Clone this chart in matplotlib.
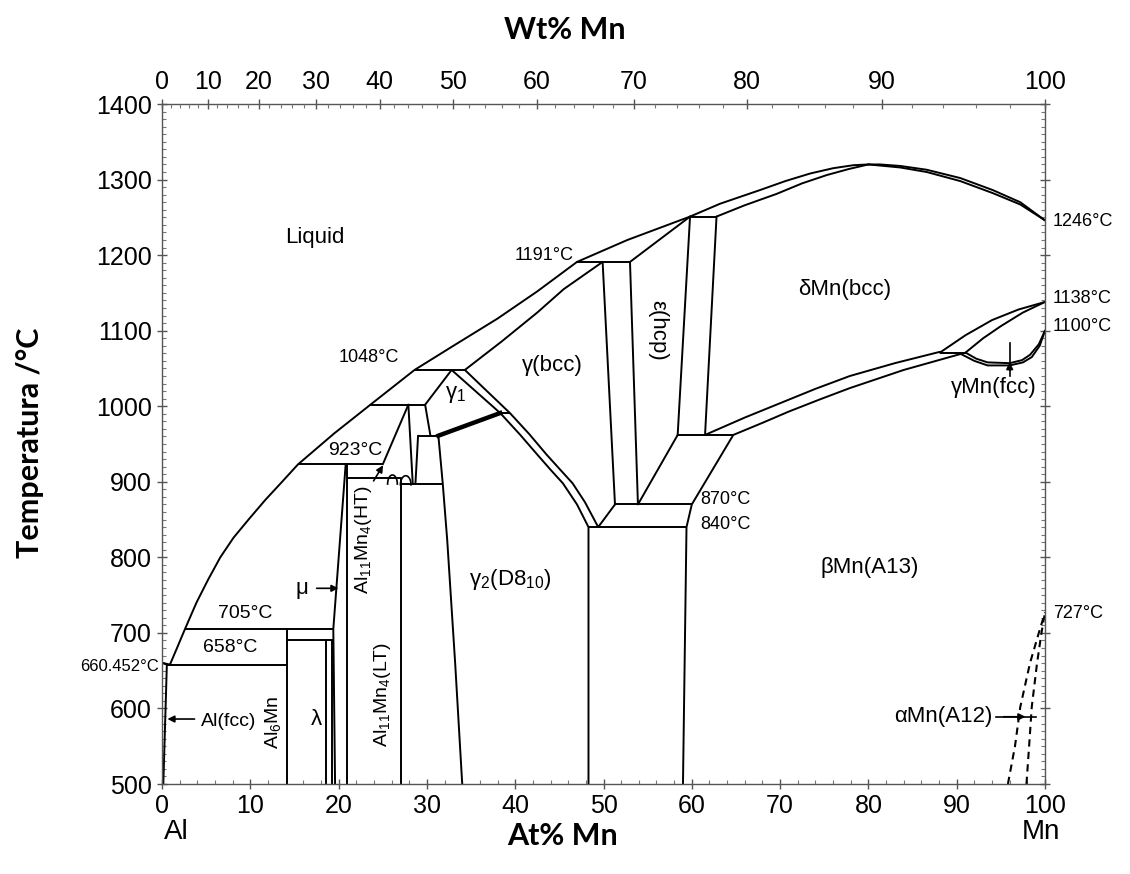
import numpy as np
import matplotlib.pyplot as plt
from matplotlib.ticker import MultipleLocator

plt.rcParams['font.family'] = ['Liberation Sans', 'DejaVu Sans']
plt.rcParams['mathtext.fontset'] = 'custom'
plt.rcParams['mathtext.rm'] = 'Liberation Sans'
plt.rcParams['mathtext.it'] = 'Liberation Sans:italic'

# ---- phase boundaries: (at% Mn, temperature °C) ----
liquidus_x = [0.9, 1.7, 2.6, 3.9, 5.2, 6.6, 8.1, 9.8, 11.7, 13.6, 15.4, 19.5, 23.6,
              28.6, 33.0, 38.0, 42.5, 47.0]
liquidus_T = [658, 680, 705, 740, 770, 800, 826, 850, 876, 900, 923, 964, 1002,
              1048, 1080, 1116, 1152, 1191]
liq_eps_x = [47.0, 52.7, 59.8]
liq_eps_T = [1191, 1220, 1251]
liq_top_x = [59.8, 63.2, 67.7, 70.6, 73.4, 76.0, 78.3, 80.0, 81.3, 83.6, 86.6, 90.4,
             94.1, 97.2, 100]
liq_top_T = [1251, 1268, 1286, 1298, 1308, 1315, 1319, 1320, 1320, 1318, 1313, 1302,
             1286, 1270, 1246]
sol_top_l_x = [62.8, 66.0, 69.6, 72.5, 75.3, 77.8, 80.0]
sol_top_l_T = [1251, 1266, 1281, 1295, 1306, 1314, 1320]
sol_top_r_x = [80.0, 83.6, 86.6, 90.4, 94.1, 97.2, 100]
sol_top_r_T = [1320, 1316, 1310, 1298, 1282, 1267, 1246]
gam_sol_x = [34.3, 38.5, 42.5, 45.5, 49.9]
gam_sol_T = [1048, 1086, 1124, 1155, 1191]

# horizontal invariant lines: temperature, x-start, x-end
iso_T = [658, 690, 705, 905, 897, 923, 961, 991, 1002, 1048, 870, 840, 962, 1191, 1251, 1071]
iso_x0 = [0.55, 14.2, 2.6, 20.9, 27.1, 15.4, 29.0, 38.3, 23.6, 28.6, 51.3, 48.3, 58.4, 47.0, 59.8, 88.1]
iso_x1 = [14.2, 19.45, 19.4, 27.1, 31.8, 25.0, 31.3, 39.4, 29.8, 34.3, 60.0, 59.4, 64.7, 53.0, 62.8, 91.0]

# remaining solid-state boundaries
bounds = {
    'al_liq': ([0, 0.9], [660.452, 658]),
    'al_sol': ([0, 0.55, 0.15], [660.452, 658, 500]),
    'al6mn': ([14.2, 14.2], [500, 705]),
    'lam_l': ([18.6, 18.6], [500, 690]),
    'lam_r': ([19.2, 19.2], [500, 690]),
    'mu_l': ([19.6, 19.4, 20.8], [500, 705, 923]),
    'mu_r': ([20.9, 20.9], [500, 923]),
    'al11mn4': ([27.1, 27.1], [500, 905]),
    'ht_l': ([25.0, 27.9], [923, 1002]),
    'ht_r': ([28.4, 27.9], [897, 1002]),
    'ht_g2': ([28.7, 29.0], [897, 961]),
    'g1_l': ([32.8, 29.8], [1048, 1002]),
    'g1_l2': ([29.8, 30.4], [1002, 961]),
    'g2_l': ([31.3, 31.8, 32.3, 33.2, 34.0], [961, 897, 823, 660, 500]),
    'g2_r': ([32.8, 35.5, 38.3, 40.5, 42.5, 44.0, 45.4, 47.0, 48.3, 48.3],
             [1048, 1020, 991, 963, 936, 916, 898, 870, 840, 500]),
    'gam_lo': ([34.3, 36.8, 39.4, 41.6, 43.55, 45.1, 46.5, 47.9, 49.4, 51.3],
               [1048, 1020, 991, 963, 936, 916, 898, 873, 840, 870]),
    'gam_eps': ([49.9, 51.3], [1191, 870]),
    'eps_l': ([53.0, 53.9, 58.4], [1191, 870, 962]),
    'eps_liq': ([53.0, 59.8], [1191, 1251]),
    'eps_r': ([59.8, 58.4], [1251, 962]),
    'del_l': ([62.8, 61.5], [1251, 962]),
    'beta_l': ([59.0, 59.4, 60.0, 64.7], [500, 840, 870, 962]),
    'del_lo': ([61.5, 66.0, 70.0, 74.0, 77.9, 83.0, 88.1], [962, 985, 1004, 1023, 1040, 1057, 1072]),
    'beta_up': ([64.7, 68.0, 71.0, 74.5, 77.9, 84.0, 90.7], [962, 978, 993, 1009, 1024, 1048, 1070]),
    'd_dg': ([88.1, 91.0, 94.0, 97.0, 100], [1071, 1094, 1114, 1128, 1138]),
    'g_dg': ([91.0, 93.0, 95.0, 97.5, 100], [1071, 1090, 1106, 1124, 1138]),
    'g_bg': ([91.0, 92.2, 93.5, 96.0, 97.4, 98.3, 99.3, 100], [1071, 1063, 1058, 1057, 1061, 1068, 1082, 1100]),
    'b_bg': ([90.5, 92.0, 93.5, 96.0, 97.5, 98.5, 99.4, 100], [1069, 1060, 1054, 1054, 1058, 1065, 1080, 1100]),
}
alpha_l_x = [95.8, 96.6, 97.2, 98.3, 99.3, 100]
alpha_l_T = [500, 550, 602, 660, 700, 727]
alpha_r_x = [97.9, 98.2, 98.5, 99.1, 99.6, 100]
alpha_r_T = [500, 550, 602, 660, 700, 727]
g1_thick_x = [31.3, 38.3]
g1_thick_T = [961, 991]

# top axis in weight percent
wt_ticks = [0, 10, 20, 30, 40, 50, 60, 70, 80, 90, 100]
M_AL, M_MN = 26.982, 54.938


def wt_to_at(w):
    w = np.asarray(w, float)
    return 100 * (w / M_MN) / (w / M_MN + (100 - w) / M_AL)


fig = plt.figure(figsize=(11.3, 8.74), dpi=100)
ax = fig.add_axes([162 / 1130, 90 / 874, 883 / 1130, 680 / 874])
ax.set_xlim(0, 100)
ax.set_ylim(500, 1400)

lw = 1.4
line_kw = dict(color='k', lw=lw, solid_joinstyle='round', solid_capstyle='round')
ax.plot(liquidus_x, liquidus_T, **line_kw)
ax.plot(liq_eps_x, liq_eps_T, **line_kw)
ax.plot(liq_top_x, liq_top_T, **line_kw)
ax.plot(sol_top_l_x, sol_top_l_T, **line_kw)
ax.plot(sol_top_r_x, sol_top_r_T, **line_kw)
ax.plot(gam_sol_x, gam_sol_T, **line_kw)
ax.hlines(iso_T, iso_x0, iso_x1, colors='k', lw=lw)
for xs, ts in bounds.values():
    ax.plot(xs, ts, **line_kw)
ax.plot(g1_thick_x, g1_thick_T, 'k-', lw=3.2)
ax.plot(alpha_l_x, alpha_l_T, 'k--', lw=1.5, dashes=(3.5, 2.5))
ax.plot(alpha_r_x, alpha_r_T, 'k--', lw=1.5, dashes=(3.5, 2.5))

# small HT/LT loops under Al11Mn4(HT)
th = np.linspace(0, np.pi, 30)
ax.plot(26.1 + 0.55 * np.cos(th), 897 + 12 * np.sin(th), 'k-', lw=1.2)
ax.plot(27.6 + 0.6 * np.cos(th), 896 + 12 * np.sin(th), 'k-', lw=1.2)

arrow = dict(arrowstyle='-|>', color='k', lw=1.2, mutation_scale=10)
ax.annotate('', xy=(25.2, 925), xytext=(23.8, 898), arrowprops=arrow)

# region and temperature labels
phase_fs = 16
temp_fs = 13
ax.text(17.3, 1223, 'Liquid', fontsize=phase_fs, ha='center', va='center')
ax.text(46.6, 1200, '1191°C', fontsize=temp_fs, ha='right', va='center')
ax.text(26.8, 1064, '1048°C', fontsize=temp_fs, ha='right', va='center')
ax.text(21.9, 942, '923°C', fontsize=temp_fs + 1, ha='center', va='center')
ax.text(9.4, 725, '705°C', fontsize=temp_fs + 1, ha='center', va='center')
ax.text(7.7, 680, '658°C', fontsize=temp_fs + 1, ha='center', va='center')
ax.text(-0.4, 656, '660.452°C', fontsize=12, ha='right', va='center', clip_on=False)
ax.text(7.6, 583, 'Al(fcc)', fontsize=temp_fs + 1, ha='center', va='center')
ax.annotate('', xy=(0.3, 586), xytext=(4.0, 586), arrowprops=arrow)
ax.text(12.6, 582, 'Al$_6$Mn', fontsize=temp_fs + 1, rotation=90, ha='center', va='center')
ax.text(17.5, 585, 'λ', fontsize=phase_fs, ha='center', va='center')
ax.text(15.9, 759, 'μ', fontsize=phase_fs, ha='center', va='center')
ax.annotate('', xy=(20.3, 759), xytext=(17.2, 759), arrowprops=arrow)
ax.text(22.8, 823, 'Al$_{11}$Mn$_4$(HT)', fontsize=temp_fs + 1, rotation=90,
        ha='center', va='center')
ax.text(25.0, 619, 'Al$_{11}$Mn$_4$(LT)', fontsize=temp_fs + 1, rotation=90,
        ha='center', va='center')
ax.text(33.3, 1015, 'γ$_1$', fontsize=phase_fs, ha='center', va='center')
ax.text(44.2, 1054, 'γ(bcc)', fontsize=phase_fs, ha='center', va='center')
ax.text(56.2, 1101, 'ε(hcp)', fontsize=phase_fs, rotation=-90, ha='center', va='center')
ax.text(77.3, 1154, 'δMn(bcc)', fontsize=phase_fs, ha='center', va='center')
ax.text(39.4, 770, 'γ$_2$(D8$_{10}$)', fontsize=phase_fs, ha='center', va='center')
ax.text(80.2, 787, 'βMn(A13)', fontsize=phase_fs, ha='center', va='center')
ax.text(94.2, 1025, 'γMn(fcc)', fontsize=phase_fs, ha='center', va='center')
ax.plot([96.0, 96.0], [1040, 1084], 'k-', lw=1.2)
ax.annotate('', xy=(96.0, 1062), xytext=(96.0, 1044), arrowprops=arrow)
ax.text(94.1, 589, 'αMn(A12)', fontsize=phase_fs, ha='right', va='center')
ax.plot([94.4, 99.0], [589, 589], 'k-', lw=1.2)
ax.annotate('', xy=(98.1, 589), xytext=(95.0, 589), arrowprops=arrow)
ax.text(61.0, 876, '870°C', fontsize=temp_fs, ha='left', va='center')
ax.text(61.0, 843, '840°C', fontsize=temp_fs, ha='left', va='center')
for t, s in [(1244, '1246°C'), (1142, '1138°C'), (1105, '1100°C'), (725, '727°C')]:
    ax.text(100.9, t, s, fontsize=temp_fs, ha='left', va='center', clip_on=False)

# axes, ticks and titles
for sp in ax.spines.values():
    sp.set_color('#555555')
    sp.set_linewidth(1.0)
ax.xaxis.set_major_locator(MultipleLocator(10))
ax.xaxis.set_minor_locator(MultipleLocator(2))
ax.yaxis.set_major_locator(MultipleLocator(100))
ax.yaxis.set_minor_locator(MultipleLocator(10))
ax.tick_params(which='major', direction='inout', length=7, width=1, colors='#555555',
               labelcolor='black', labelsize=18, right=True, top=False, pad=4)
ax.tick_params(which='minor', direction='in', length=3, width=0.8, colors='#777777',
               right=True, top=False)

ax_top = ax.twiny()
ax_top.set_xlim(0, 100)
ax_top.set_xticks(wt_to_at(wt_ticks))
ax_top.set_xticklabels([str(w) for w in wt_ticks])
ax_top.set_xticks(wt_to_at(np.arange(0, 101, 2)), minor=True)
ax_top.tick_params(which='major', direction='inout', length=7, width=1, colors='#555555',
                   labelcolor='black', labelsize=18, pad=4)
ax_top.tick_params(which='minor', direction='in', length=3, width=0.8, colors='#777777')
for sp in ax_top.spines.values():
    sp.set_visible(False)

title_font = dict(family=['Lato', 'DejaVu Sans'], fontweight='bold', fontsize=22)
fig.text(565 / 1130, 1 - 30 / 874, 'Wt% Mn', ha='center', va='center', **title_font)
fig.text(563 / 1130, 1 - 836 / 874, 'At% Mn', ha='center', va='center', **title_font)
fig.text(30 / 1130, 1 - 443 / 874, 'Temperatura /°C', rotation=90, ha='center',
         va='center', **title_font)
fig.text(176 / 1130, 1 - 832 / 874, 'Al', fontsize=20, ha='center', va='center')
fig.text(1041 / 1130, 1 - 832 / 874, 'Mn', fontsize=20, ha='center', va='center')

fig.savefig('out.png', dpi=100)
